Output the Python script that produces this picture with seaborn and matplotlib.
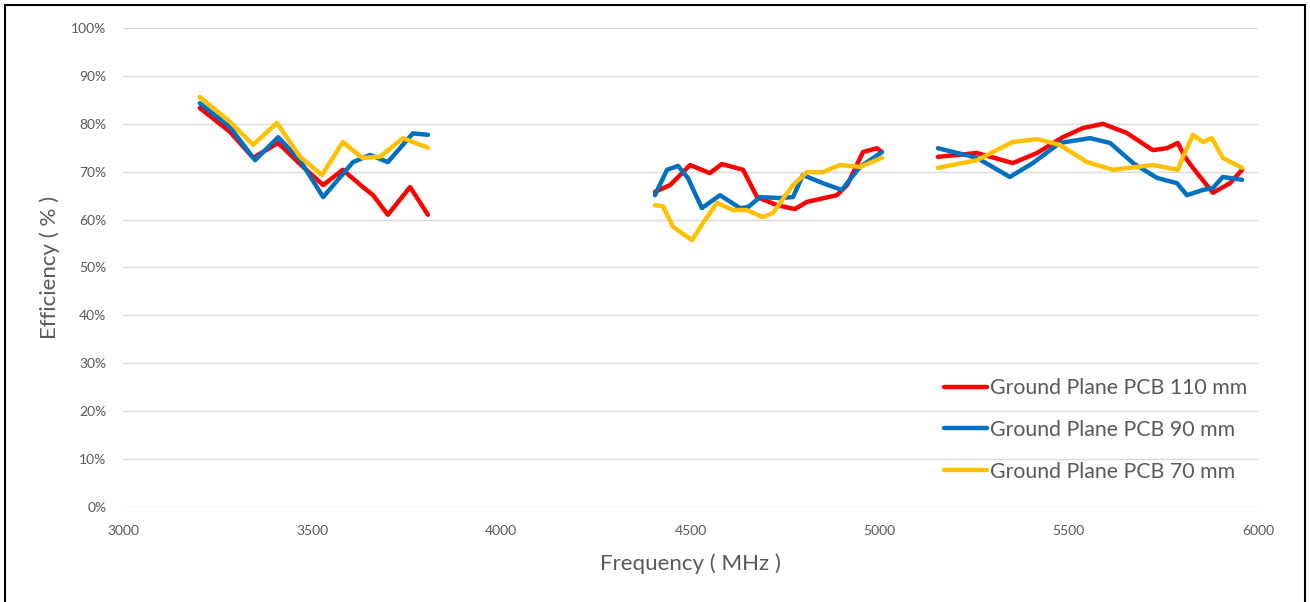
import numpy as np
import pandas as pd
import seaborn as sns
import matplotlib.pyplot as plt
from matplotlib.patches import Rectangle
from matplotlib.ticker import PercentFormatter

# Efficiency (three separate bands)
freq_110 = [3203, 3283, 3344, 3410, 3476, 3529, 3581, 3634, 3661, 3700, 3759, 3806,
            4406, 4446, 4499, 4551, 4583, 4639, 4676, 4729, 4776, 4808, 4887, 4914, 4956, 4993, 5006,
            5154, 5257, 5352, 5416, 5484, 5537, 5590, 5653, 5722, 5759, 5788, 5807, 5828, 5881, 5926, 5958]
eff_110 = [83.3, 78.3, 72.9, 76.0, 71.0, 67.2, 70.4, 66.8, 65.1, 61.0, 66.8, 61.0,
           65.8, 67.2, 71.4, 69.7, 71.6, 70.4, 64.7, 63.0, 62.2, 63.7, 65.1, 67.2, 74.1, 74.9, 74.1,
           73.1, 73.9, 71.8, 73.9, 77.2, 79.1, 80.0, 78.1, 74.5, 74.9, 76.0, 73.1, 70.8, 65.6, 67.6, 70.4]

freq_90 = [3203, 3283, 3349, 3410, 3468, 3529, 3608, 3653, 3700, 3766, 3806,
           4406, 4438, 4467, 4493, 4530, 4578, 4631, 4652, 4684, 4736, 4771, 4797, 4850, 4900, 4948, 5006,
           5154, 5257, 5344, 5405, 5476, 5556, 5609, 5670, 5733, 5786, 5812, 5855, 5881, 5907, 5958]
eff_90 = [84.3, 79.3, 72.4, 77.2, 72.4, 64.7, 72.0, 73.5, 72.0, 78.0, 77.7,
          65.1, 70.4, 71.2, 68.7, 62.4, 65.1, 62.4, 62.6, 64.7, 64.5, 64.7, 69.3, 67.6, 66.2, 71.0, 74.1,
          74.9, 72.9, 68.9, 71.8, 76.0, 77.0, 76.0, 71.8, 68.7, 67.6, 65.1, 66.2, 66.6, 68.9, 68.3]

freq_70 = [3203, 3283, 3344, 3407, 3468, 3526, 3581, 3632, 3679, 3740, 3806,
           4406, 4427, 4454, 4504, 4533, 4570, 4612, 4649, 4691, 4718, 4771, 4808, 4850, 4895, 4948, 5006,
           5154, 5257, 5352, 5416, 5476, 5548, 5617, 5722, 5788, 5802, 5828, 5855, 5878, 5907, 5958]
eff_70 = [85.6, 80.4, 75.6, 80.2, 73.1, 69.3, 76.2, 72.9, 73.1, 77.0, 75.0,
          63.0, 62.8, 58.5, 55.7, 59.3, 63.5, 62.0, 62.0, 60.5, 61.4, 67.2, 69.9, 69.9, 71.4, 71.0, 72.9,
          70.8, 72.4, 76.2, 76.8, 75.6, 72.0, 70.4, 71.4, 70.4, 73.1, 77.7, 76.2, 77.0, 72.9, 70.8]

labels = ['Ground Plane PCB 110 mm', 'Ground Plane PCB 90 mm', 'Ground Plane PCB 70 mm']
colors = ['#FF0000', '#0070C0', '#FFC000']

frames = []
for lab, f, e in zip(labels, [freq_110, freq_90, freq_70], [eff_110, eff_90, eff_70]):
    d = pd.DataFrame({'freq': f, 'eff': np.array(e) / 100.0})
    d['series'] = lab
    # split into the three measured bands so lines don't bridge the gaps
    d['band'] = np.digitize(d['freq'], [4000, 5100])
    frames.append(d)
df = pd.concat(frames, ignore_index=True)

sns.set_style('white')
plt.rcParams['font.family'] = ['Lato', 'DejaVu Sans']

fig = plt.figure(figsize=(13.1, 6.02), dpi=100)
ax = fig.add_axes([0.0939, 0.1578, 0.8664, 0.7957])

sns.lineplot(data=df, x='freq', y='eff', hue='series', units='band', estimator=None,
             sort=False, palette=colors, hue_order=labels, linewidth=3.2, ax=ax)

ax.set_xlim(3000, 6000)
ax.set_ylim(0, 1.0)
ax.set_xticks(range(3000, 6001, 500))
ax.set_yticks(np.arange(0, 1.01, 0.1))
ax.yaxis.set_major_formatter(PercentFormatter(1.0, decimals=0))
ax.grid(axis='y', color='#D9D9D9', linewidth=1)
ax.grid(axis='x', visible=False)
for s in ax.spines.values():
    s.set_visible(False)
ax.tick_params(axis='both', length=0, colors='#595959', labelsize=10)
ax.tick_params(axis='y', pad=12)
ax.tick_params(axis='x', pad=13)

ax.set_xlabel('Frequency ( MHz )', fontsize=16, color='#595959', labelpad=12)
ax.set_ylabel('Efficiency ( % )', fontsize=16, color='#595959', labelpad=8)

leg = ax.legend(loc='center left', bbox_to_anchor=(0.7066, 0.161), frameon=False,
                fontsize=15.3, labelspacing=1.02, handlelength=2.0, handletextpad=0.15)
for t in leg.get_texts():
    t.set_color('#595959')
for h in leg.get_lines():
    h.set_linewidth(3.2)

# outer frame around the whole picture
fig.patches.append(Rectangle((0.004, -0.01), 0.992, 1.002, transform=fig.transFigure,
                             fill=False, edgecolor='black', linewidth=1.5))

fig.savefig('out.png', dpi=100)
